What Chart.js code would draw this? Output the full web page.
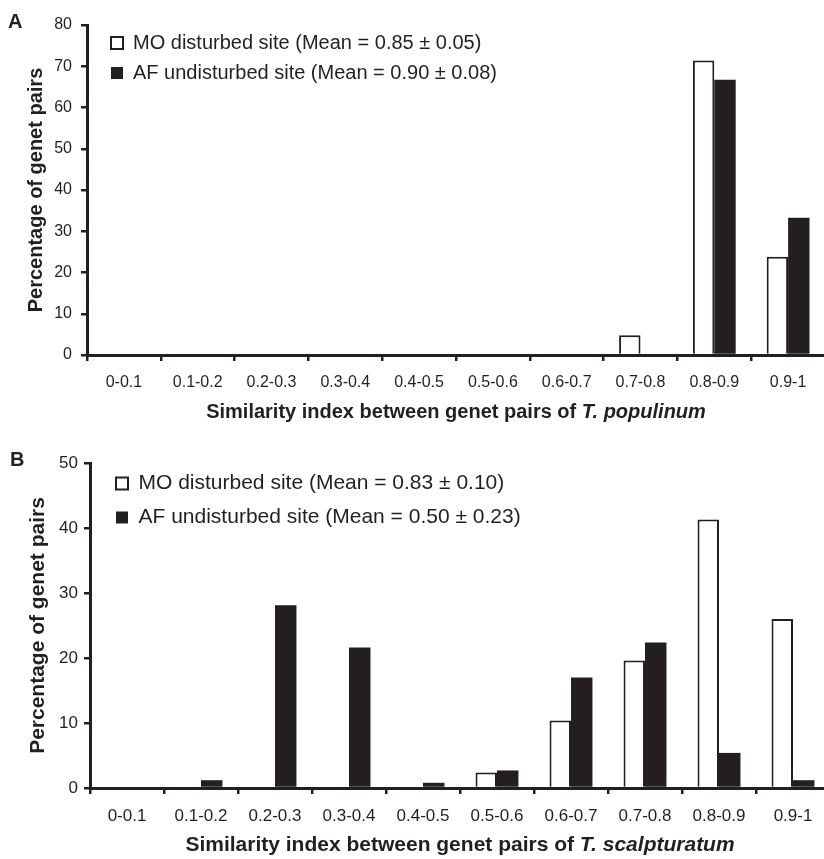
<!DOCTYPE html>
<html><head><meta charset="utf-8">
<script src="https://cdn.jsdelivr.net/npm/chart.js@4.4.1/dist/chart.umd.min.js"></script>
<style>
html,body{margin:0;padding:0;background:#fff;overflow:hidden;width:824px;height:859px;}
#wrap{position:relative;width:824px;height:859px;overflow:hidden;background:#fff;}
canvas{position:absolute;left:0;}
.lab{position:absolute;font:bold 20px "Liberation Sans",Arial,Helvetica,sans-serif;color:#231f20;}
</style></head><body>
<div id="wrap">
<canvas id="cA" width="832" height="430" style="top:0"></canvas>
<canvas id="cB" width="832" height="429" style="top:430px"></canvas>
<div class="lab" style="left:8px;top:10px">A</div>
<div class="lab" style="left:10px;top:448px">B</div>
</div>
<script>
// ---- data ----
const categories = ['0-0.1','0.1-0.2','0.2-0.3','0.3-0.4','0.4-0.5','0.5-0.6','0.6-0.7','0.7-0.8','0.8-0.9','0.9-1'];
const legendA = ['MO disturbed site (Mean = 0.85 \u00b1 0.05)', 'AF undisturbed site (Mean = 0.90 \u00b1 0.08)'];
const legendB = ['MO disturbed site (Mean = 0.83 \u00b1 0.10)', 'AF undisturbed site (Mean = 0.50 \u00b1 0.23)'];
const moA = [0,0,0,0,0,0,0,4.8,71.4,23.8];
const afA = [0,0,0,0,0,0,0,0,66.7,33.3];
const moB = [0,0,0,0,0,2.4,10.4,19.6,41.3,26.0];
const afB = [0,1.2,28.1,21.6,0.8,2.7,17.0,22.4,5.4,1.2];
const yTicksA = [0,10,20,30,40,50,60,70,80];
const yTicksB = [0,10,20,30,40,50];
const yTitle = 'Percentage of genet pairs';
const xTitlePlain = 'Similarity index between genet pairs of ';
const xTitleItalA = 'T. populinum';
const xTitleItalB = 'T. scalpturatum';

const INK = '#231f20';
const FAM = '"Liberation Sans", Arial, Helvetica, sans-serif';

const xTitlePlugin = {
  id: 'xTitle',
  afterDraw(chart, args, o) {
    const ctx = chart.ctx, ca = chart.chartArea;
    ctx.save();
    ctx.fillStyle = INK;
    ctx.textBaseline = 'middle';
    ctx.textAlign = 'left';
    const f1 = 'bold ' + o.size + 'px ' + FAM;
    const f2 = 'italic bold ' + o.size + 'px ' + FAM;
    ctx.font = f1; const w1 = ctx.measureText(o.plain).width;
    ctx.font = f2; const w2 = ctx.measureText(o.ital).width;
    let x = (ca.left + ca.right) / 2 - (w1 + w2) / 2;
    const y = ca.bottom + o.offset;
    ctx.font = f1; ctx.fillText(o.plain, x, y);
    ctx.font = f2; ctx.fillText(o.ital, x + w1, y);
    ctx.restore();
  }
};
const legendShift = {
  id: 'legendShift',
  afterLayout(chart, args, o) {
    const lg = chart.legend, ca = chart.chartArea;
    if (!lg) return;
    lg.left = ca.left + o.dx;
    lg.top = ca.top + o.dy;
  }
};

function makeChart(id, cfg) {
  return new Chart(document.getElementById(id), {
    type: 'bar',
    data: {
      labels: categories,
      datasets: [
        { label: cfg.legend[0], data: cfg.mo, backgroundColor: '#ffffff', borderColor: INK, borderWidth: 2,
          categoryPercentage: 0.58, barPercentage: 1.0 },
        { label: cfg.legend[1], data: cfg.af, backgroundColor: INK, borderColor: INK, borderWidth: 0,
          categoryPercentage: 0.58, barPercentage: 1.0 }
      ]
    },
    options: {
      responsive: false,
      animation: false,
      devicePixelRatio: 1,
      layout: { padding: { top: cfg.padTop, right: cfg.padRight, left: 0, bottom: 0 } },
      plugins: {
        tooltip: { enabled: false },
        legend: {
          position: 'chartArea', align: 'start',
          labels: { color: INK, font: { family: FAM, size: cfg.legendSize }, boxWidth: 12, boxHeight: 12, padding: cfg.legendPad }
        },
        legendShift: { dx: cfg.legDx, dy: cfg.legDy },
        xTitle: { plain: xTitlePlain, ital: cfg.ital, size: cfg.titleSize, offset: cfg.titleOffset }
      },
      scales: {
        x: {
          grid: { display: true, drawOnChartArea: false, drawTicks: true, tickLength: 6, color: INK, lineWidth: 2.5, offset: true },
          border: { display: true, color: INK, width: 3 },
          ticks: { color: INK, font: { family: FAM, size: cfg.tickSize }, padding: 12, autoSkip: false, maxRotation: 0 },
          afterFit: s => { s.height = cfg.xH; }
        },
        y: {
          min: 0, max: cfg.yMax,
          afterBuildTicks: s => { s.ticks = cfg.yTicks.map(v => ({ value: v })); },
          grid: { display: true, drawOnChartArea: false, drawTicks: true, tickLength: 6, color: INK, lineWidth: 2.5 },
          border: { display: true, color: INK, width: 3 },
          ticks: { color: INK, font: { family: FAM, size: cfg.tickSize }, padding: cfg.yPad },
          title: { display: true, text: yTitle, color: INK, font: { family: FAM, size: cfg.titleSize, weight: 'bold' }, padding: { top: cfg.yTitlePad, bottom: 0 } },
          afterFit: s => { s.width = cfg.yW; }
        }
      }
    },
    plugins: [xTitlePlugin, legendShift]
  });
}

makeChart('cA', { legend: legendA, mo: moA, af: afA, yMax: 80, yTicks: yTicksA, padTop: 25, padRight: 7,
  yW: 87, xH: 75, tickSize: 16, legendSize: 20, legendPad: 10, legDx: 14, legDy: -2,
  ital: xTitleItalA, titleSize: 20, titleOffset: 57, yPad: 9, yTitlePad: 24 });
makeChart('cB', { legend: legendB, mo: moB, af: afB, yMax: 50, yTicks: yTicksB, padTop: 33, padRight: 2,
  yW: 90, xH: 71, tickSize: 17, legendSize: 21, legendPad: 13, legDx: 13, legDy: -3,
  ital: xTitleItalB, titleSize: 21, titleOffset: 57, yPad: 6, yTitlePad: 26 });
</script>
</body></html>
